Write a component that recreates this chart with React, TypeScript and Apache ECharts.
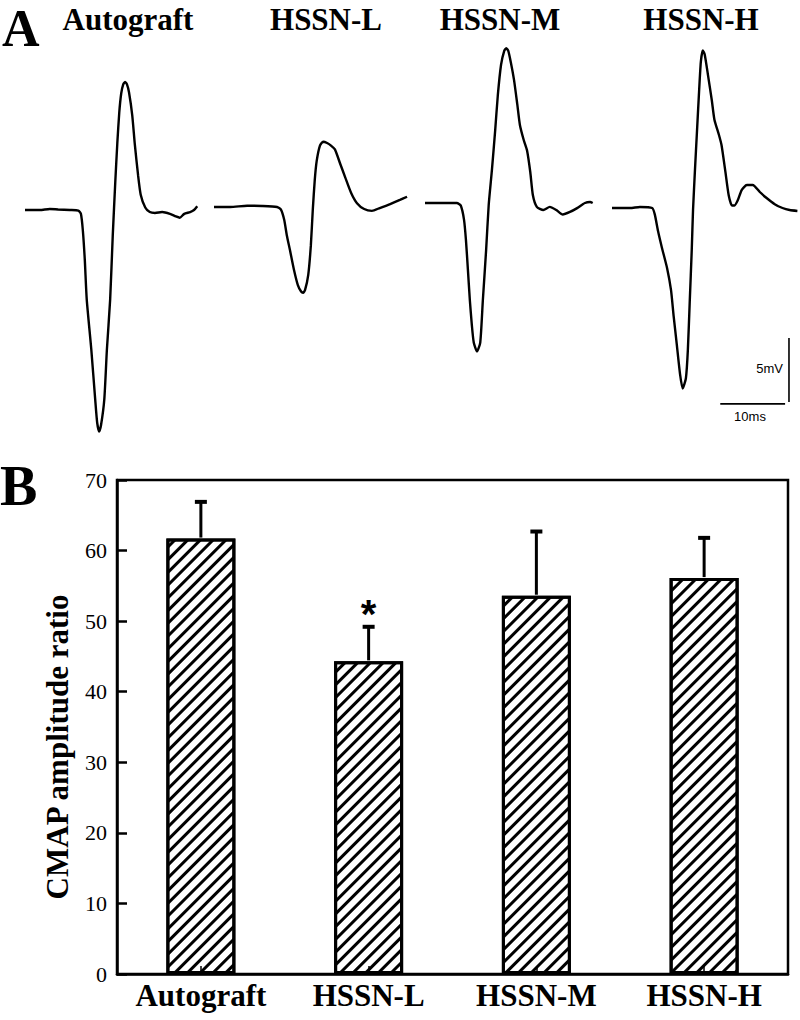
import React, { useEffect, useRef } from "react";
import * as echarts from "echarts";

// ---------- Panel B data ----------
const categories = ["Autograft", "HSSN-L", "HSSN-M", "HSSN-H"];
const meanRatio = [61.7, 44.3, 53.6, 56.1];
const sdRatio = [5.2, 4.9, 9.1, 5.7];
const significance = ["", "*", "", ""];
const Y_MIN = 0;
const Y_MAX = 70;
const Y_INTERVAL = 10;

// ---------- Panel A data: CMAP traces [time ms, amplitude mV] ----------
const traceLabels = ["Autograft", "HSSN-L", "HSSN-M", "HSSN-H"];
const traceAutograft: number[][] = [
  [0, 0], [2.3, 0], [3.8, 0.08], [5.1, 0.04], [6.9, 0], [8.2, -0.04], [8.6, -0.3], [8.9, -1.6],
  [9.2, -3.9], [9.5, -7.0], [10.2, -10.9], [10.8, -14.8], [11.1, -16.6], [11.4, -17.3], [11.7, -16.8],
  [12.2, -14.8], [12.6, -10.9], [13.1, -7.0], [13.5, -2.0], [13.9, 2.3], [14.2, 5.2], [14.5, 7.6],
  [14.8, 9.1], [15.1, 9.8], [15.4, 10.0], [15.7, 9.8], [16.0, 9.2], [16.5, 7.4], [16.9, 5.1],
  [17.4, 2.7], [17.8, 1.2], [18.5, 0.2], [19.2, -0.16], [20.0, -0.23], [21.1, -0.16], [22.3, -0.3],
  [23.2, -0.5], [23.8, -0.6], [24.5, -0.3], [25.4, -0.16], [26.0, 0], [26.5, 0.3],
];
const traceHSSNL: number[][] = [
  [0, 0], [2.5, 0], [5.1, 0.1], [7.4, 0.08], [9.7, 0], [10.3, -0.2], [10.8, -1.0], [11.2, -2.2],
  [11.7, -3.4], [12.3, -4.9], [12.9, -6.1], [13.4, -6.6], [13.7, -6.7], [14.0, -6.5], [14.5, -5.3],
  [14.9, -3.0], [15.2, -0.2], [15.5, 2.1], [15.8, 3.6], [16.3, 4.8], [16.8, 5.1], [17.4, 5.0],
  [18.0, 4.8], [18.6, 4.5], [19.4, 3.4], [20.2, 2.3], [21.1, 1.1], [22.0, 0.3], [23.1, -0.16],
  [24.3, -0.3], [25.5, -0.08], [27.1, 0.23], [28.6, 0.55], [29.7, 0.8],
];
const traceHSSNM: number[][] = [
  [0, 0], [2.3, 0], [4.9, 0], [5.5, -0.2], [6.0, -1.3], [6.3, -2.9], [6.6, -5.2], [6.9, -7.6],
  [7.2, -9.5], [7.5, -10.9], [8.0, -11.6], [8.5, -10.9], [8.9, -7.6], [9.4, -3.7], [9.8, -0.16],
  [10.3, 2.6], [10.8, 5.7], [11.2, 8.4], [11.7, 10.8], [12.2, 11.9], [12.5, 12.1], [12.8, 11.9],
  [13.2, 11.0], [13.7, 9.6], [14.2, 7.7], [14.6, 6.1], [15.2, 4.9], [15.7, 4.1], [16.2, 2.4],
  [16.6, 0.6], [17.2, -0.3], [18.2, -0.55], [19.2, -0.3], [20.2, -0.55], [21.2, -0.9], [22.3, -0.7],
  [23.4, -0.4], [24.6, 0], [25.4, 0.08], [25.8, 0],
];
const traceHSSNH: number[][] = [
  [0, 0], [2.8, 0], [4.3, 0.08], [6.2, 0], [6.6, -0.5], [7.1, -1.8], [7.7, -3.1], [8.5, -4.7],
  [9.1, -6.4], [9.5, -8.4], [10.0, -10.7], [10.5, -13.0], [10.9, -14.1], [11.4, -13.3], [11.7, -11.1],
  [12.0, -7.2], [12.3, -3.3], [12.5, -0.16], [12.8, 3.0], [13.1, 5.9], [13.4, 8.8], [13.7, 11.4],
  [14.0, 12.3], [14.3, 12.0], [14.8, 10.4], [15.4, 8.4], [15.8, 6.9], [16.5, 5.7], [16.9, 4.9],
  [17.5, 2.8], [18.0, 1.0], [18.5, 0.2], [18.9, 0.2], [19.4, 0.6], [20.0, 1.4], [20.8, 1.8],
  [21.7, 1.8], [22.8, 1.25], [23.8, 0.8], [25.1, 0.3], [26.3, 0], [27.4, -0.16], [28.6, -0.23],
];
const traces = [traceAutograft, traceHSSNL, traceHSSNM, traceHSSNH];

// scale bar (10 ms, 5 mV), anchored in the last trace's frame
const SCALE_MS = 10;
const SCALE_MV = 5;
const SCALE_CORNER = [26.7, -15.3];

// ---------- layout ----------
const PX_PER_MS = 6.5;
const PX_PER_MV = 12.8;
const A_VMAX = 14;
const A_VMIN = -20;
const traceLayout = [
  { left: 25, baseline: 210, span: 27.5 },
  { left: 214, baseline: 207, span: 30.5 },
  { left: 425, baseline: 203, span: 26.5 },
  { left: 612, baseline: 208, span: 29 },
];
const traceLabelX = [128, 326, 500, 701];

const SERIF = "'Liberation Serif', 'Times New Roman', Times, serif";
const SANS = "'Liberation Sans', Arial, sans-serif";

export default function App() {
  const ref = useRef<HTMLDivElement>(null);

  useEffect(() => {
    document.body.style.margin = "0";
    const chart = echarts.init(ref.current!, null, { renderer: "svg" });

    const grids: any[] = [];
    const xAxes: any[] = [];
    const yAxes: any[] = [];
    const series: any[] = [];

    traceLayout.forEach((l, i) => {
      grids.push({
        left: l.left,
        top: l.baseline - A_VMAX * PX_PER_MV,
        width: l.span * PX_PER_MS,
        height: (A_VMAX - A_VMIN) * PX_PER_MV,
      });
      xAxes.push({ type: "value", gridIndex: i, min: 0, max: l.span, show: false });
      yAxes.push({ type: "value", gridIndex: i, min: A_VMIN, max: A_VMAX, show: false });
      series.push({
        type: "line",
        name: traceLabels[i],
        xAxisIndex: i,
        yAxisIndex: i,
        data: traces[i],
        showSymbol: false,
        smooth: 0.2,
        lineStyle: { color: "#000", width: 2.4 },
        silent: true,
      });
    });

    // scale bars
    const [ct, cv] = SCALE_CORNER;
    series.push({
      type: "line",
      xAxisIndex: 3,
      yAxisIndex: 3,
      data: [[ct - SCALE_MS, cv], [ct, cv]],
      showSymbol: false,
      lineStyle: { color: "#000", width: 1.6 },
      silent: true,
    });
    series.push({
      type: "line",
      xAxisIndex: 3,
      yAxisIndex: 3,
      data: [[ct + 0.6, cv + 0.15], [ct + 0.6, cv + SCALE_MV + 0.15]],
      showSymbol: false,
      lineStyle: { color: "#000", width: 1.6 },
      silent: true,
    });

    // Panel B
    const bi = 4;
    grids.push({
      left: 117,
      right: 12,
      top: 480,
      bottom: 46,
      show: true,
      borderColor: "#000",
      borderWidth: 2.5,
      backgroundColor: "transparent",
    });
    xAxes.push({
      type: "category",
      gridIndex: bi,
      data: categories,
      z: 10,
      axisLine: { lineStyle: { color: "#000", width: 2.5 } },
      axisTick: { show: true, inside: true, alignWithLabel: true, length: 8, lineStyle: { color: "#000", width: 1.5 } },
      axisLabel: { interval: 0, fontSize: 31, fontWeight: "bold", fontFamily: SERIF, color: "#000", margin: 6 },
    });
    yAxes.push({
      type: "value",
      gridIndex: bi,
      min: Y_MIN,
      max: Y_MAX,
      interval: Y_INTERVAL,
      axisLine: { show: true, lineStyle: { color: "#000", width: 2.5 } },
      axisTick: { show: true, inside: true, length: 10, lineStyle: { color: "#000", width: 2.5 } },
      axisLabel: { fontSize: 22, fontFamily: SERIF, color: "#000", margin: 10 },
      splitLine: { show: false },
    });
    series.push({
      type: "bar",
      xAxisIndex: bi,
      yAxisIndex: bi,
      data: meanRatio,
      barWidth: 69,
      itemStyle: {
        color: "#fff",
        borderColor: "#000",
        borderWidth: 3,
        decal: {
          symbol: "rect",
          symbolSize: 1,
          dashArrayX: [1, 0],
          dashArrayY: [2.2, 5.4],
          rotation: -Math.PI / 4,
          color: "#000",
          backgroundColor: "#fff",
        },
      },
      silent: true,
    });
    series.push({
      type: "custom",
      xAxisIndex: bi,
      yAxisIndex: bi,
      data: categories.map((c, i) => [i, meanRatio[i], meanRatio[i] + sdRatio[i]]),
      encode: { x: 0, y: [1, 2] },
      z: 5,
      silent: true,
      renderItem: (params: any, api: any) => {
        const idx = params.dataIndex;
        const base = api.coord([api.value(0), api.value(1)]);
        const top = api.coord([api.value(0), api.value(2)]);
        const children: any[] = [
          { type: "line", shape: { x1: base[0], y1: base[1] - 1, x2: top[0], y2: top[1] }, style: { stroke: "#000", lineWidth: 3 } },
          { type: "line", shape: { x1: top[0] - 6, y1: top[1], x2: top[0] + 6, y2: top[1] }, style: { stroke: "#000", lineWidth: 4 } },
        ];
        if (significance[idx]) {
          children.push({
            type: "text",
            x: top[0],
            y: top[1] - 13,
            style: {
              text: significance[idx],
              fontSize: 40,
              fontWeight: "bold",
              fontFamily: SANS,
              fill: "#000",
              align: "center",
              verticalAlign: "middle",
            },
          });
        }
        return { type: "group", children };
      },
    });

    const graphic: any[] = [
      { type: "text", x: 2, y: 28, style: { text: "A", fontSize: 52, fontWeight: "bold", fontFamily: SERIF, fill: "#000", verticalAlign: "middle" } },
      { type: "text", x: 0, y: 486, style: { text: "B", fontSize: 56, fontWeight: "bold", fontFamily: SERIF, fill: "#000", verticalAlign: "middle" } },
      ...traceLabels.map((t, i) => ({
        type: "text",
        x: traceLabelX[i],
        y: 19,
        style: { text: t, fontSize: 31, fontWeight: "bold", fontFamily: SERIF, fill: "#000", align: "center", verticalAlign: "middle" },
      })),
      {
        type: "text",
        x: 57,
        y: 747,
        rotation: Math.PI / 2,
        style: { text: "CMAP amplitude ratio", fontSize: 31, fontWeight: "bold", fontFamily: SERIF, fill: "#000", align: "center", verticalAlign: "middle" },
      },
      { type: "text", x: 783, y: 368, style: { text: `${SCALE_MV}mV`, fontSize: 13, fontFamily: SANS, fill: "#000", align: "right", verticalAlign: "middle" } },
      { type: "text", x: 750, y: 416, style: { text: `${SCALE_MS}ms`, fontSize: 13, fontFamily: SANS, fill: "#000", align: "center", verticalAlign: "middle" } },
    ];

    chart.setOption({
      animation: false,
      backgroundColor: "#fff",
      grid: grids,
      xAxis: xAxes,
      yAxis: yAxes,
      series,
      graphic,
    });

    return () => chart.dispose();
  }, []);

  return <div ref={ref} style={{ position: "absolute", left: 0, top: 0, width: 800, height: 1020 }} />;
}
